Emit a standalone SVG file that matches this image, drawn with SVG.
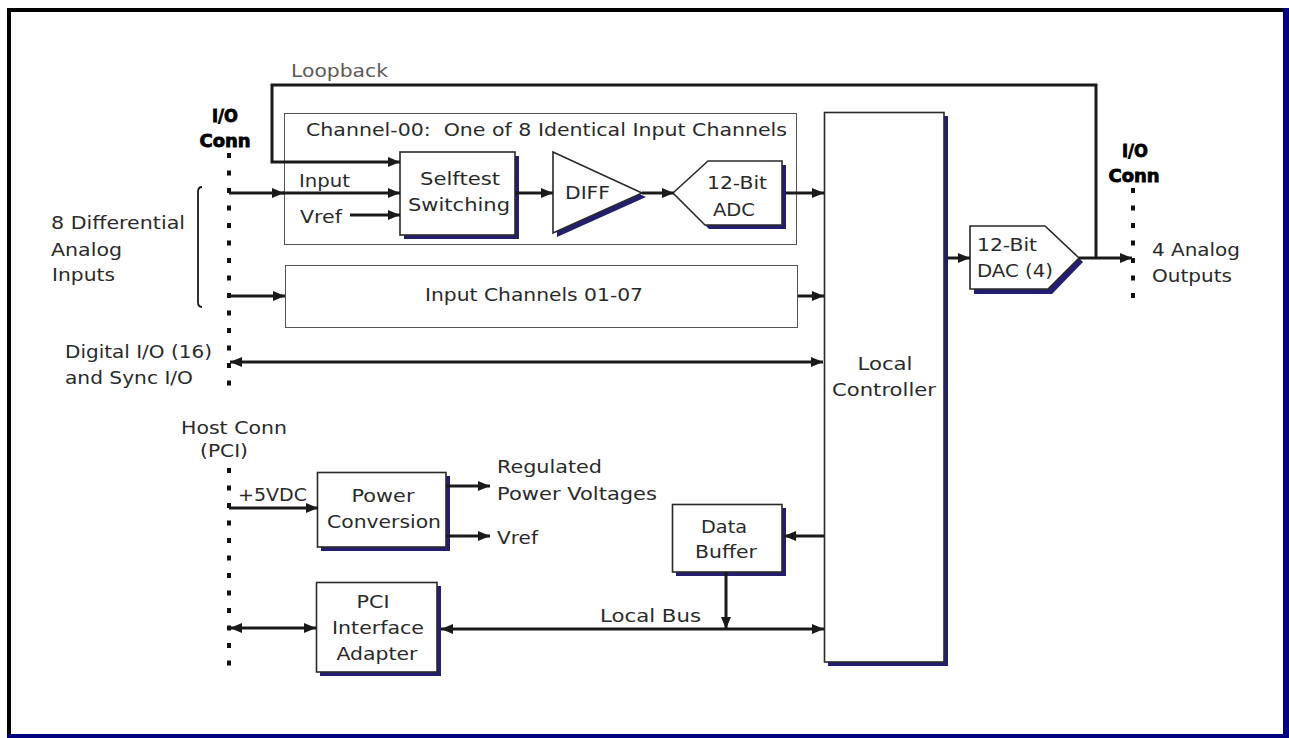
<svg xmlns="http://www.w3.org/2000/svg" width="1289" height="738" viewBox="0 0 1289 738">
<defs>
<style>
text{font-family:"DejaVu Sans","Liberation Sans",sans-serif;font-size:17.5px;fill:#2a2a2a}
.b{font-weight:bold;font-size:17px;fill:#000;stroke:#000;stroke-width:0.8}
.g{fill:#5a5a5a}
.m{text-anchor:middle}
.box{fill:#fff;stroke:#2a2a2a;stroke-width:1.6}
.thin{fill:none;stroke:#555;stroke-width:1}
.sh{fill:#231f6e}
.ln{fill:none;stroke:#1a1a1a;stroke-width:3}
.dot{fill:none;stroke:#111;stroke-width:4;stroke-dasharray:5 12.5}
</style>
<marker id="ah" viewBox="0 0 12 10" refX="12" refY="5" markerWidth="12" markerHeight="10" markerUnits="userSpaceOnUse" orient="auto-start-reverse">
<path d="M0,0 L12,5 L0,10 z" fill="#1a1a1a"/>
</marker>
</defs>
<rect width="1289" height="738" fill="#fff"/>
<g id="frame">
<rect x="1283" y="8" width="6" height="730" fill="#000080"/>
<rect x="7" y="734" width="1282" height="4" fill="#000080"/>
<rect x="7" y="8" width="1276" height="4" fill="#000"/>
<rect x="7" y="8" width="4" height="726" fill="#000"/>
</g>
<g id="labels">
<text class="g" x="291" y="77" textLength="97" lengthAdjust="spacingAndGlyphs">Loopback</text>
<text class="b m" x="225" y="122" textLength="26" lengthAdjust="spacingAndGlyphs">I/O</text>
<text class="b m" x="225" y="147" textLength="51" lengthAdjust="spacingAndGlyphs">Conn</text>
<text class="b m" x="1135" y="157" textLength="26" lengthAdjust="spacingAndGlyphs">I/O</text>
<text class="b m" x="1134" y="182" textLength="51" lengthAdjust="spacingAndGlyphs">Conn</text>
<text x="299" y="187" textLength="51" lengthAdjust="spacingAndGlyphs">Input</text>
<text x="300" y="223" textLength="42" lengthAdjust="spacingAndGlyphs">Vref</text>
<text x="51" y="229" textLength="134" lengthAdjust="spacingAndGlyphs">8 Differential</text>
<text x="51" y="256" textLength="71" lengthAdjust="spacingAndGlyphs">Analog</text>
<text x="52" y="281" textLength="63" lengthAdjust="spacingAndGlyphs">Inputs</text>
<text x="1152" y="256" textLength="88" lengthAdjust="spacingAndGlyphs">4 Analog</text>
<text x="1152" y="282" textLength="80" lengthAdjust="spacingAndGlyphs">Outputs</text>
<text x="65" y="358" textLength="147" lengthAdjust="spacingAndGlyphs">Digital I/O (16)</text>
<text x="65" y="384" textLength="128" lengthAdjust="spacingAndGlyphs">and Sync I/O</text>
<text x="181" y="434" textLength="106" lengthAdjust="spacingAndGlyphs">Host Conn</text>
<text x="200" y="457" textLength="48" lengthAdjust="spacingAndGlyphs">(PCI)</text>
<text x="238" y="501" textLength="69" lengthAdjust="spacingAndGlyphs">+5VDC</text>
<text x="497" y="473" textLength="105" lengthAdjust="spacingAndGlyphs">Regulated</text>
<text x="497" y="500" textLength="160" lengthAdjust="spacingAndGlyphs">Power Voltages</text>
<text x="497" y="544" textLength="41" lengthAdjust="spacingAndGlyphs">Vref</text>
<text x="600" y="622" textLength="101" lengthAdjust="spacingAndGlyphs">Local Bus</text>
</g>
<g id="channel00">
<rect class="thin" x="284.5" y="113.5" width="512" height="131"/>
<text x="306" y="136" xml:space="preserve" textLength="481" lengthAdjust="spacingAndGlyphs">Channel-00:  One of 8 Identical Input Channels</text>
</g>
<g id="selftest">
<rect class="sh" x="404" y="156" width="115" height="83"/>
<rect class="box" x="400" y="152" width="115" height="83"/>
<text class="m" x="460" y="185" textLength="80" lengthAdjust="spacingAndGlyphs">Selftest</text>
<text class="m" x="459" y="211" textLength="102" lengthAdjust="spacingAndGlyphs">Switching</text>
</g>
<g id="diff">
<path class="sh" d="M557,156 L646,197 L557,237 z"/>
<path class="box" d="M553,152 L642,193 L553,233 z"/>
<text x="565" y="199" textLength="45" lengthAdjust="spacingAndGlyphs">DIFF</text>
</g>
<g id="adc">
<path class="sh" d="M677,197 L712,165 L786,165 L786,229 L709,229 z"/>
<path class="box" d="M673,193 L708,161 L782,161 L782,225 L705,225 z"/>
<text class="m" x="737" y="189" textLength="60" lengthAdjust="spacingAndGlyphs">12-Bit</text>
<text class="m" x="734" y="216" textLength="42" lengthAdjust="spacingAndGlyphs">ADC</text>
</g>
<g id="inputch">
<rect class="thin" x="285.5" y="265.5" width="512" height="62"/>
<text class="m" x="534" y="301" textLength="218" lengthAdjust="spacingAndGlyphs">Input Channels 01-07</text>
</g>
<g id="controller">
<rect class="sh" x="828" y="116" width="120" height="550"/>
<rect class="box" x="824.5" y="112.5" width="119.5" height="549.5"/>
<text class="m" x="885" y="370" textLength="55" lengthAdjust="spacingAndGlyphs">Local</text>
<text class="m" x="884" y="396" textLength="104" lengthAdjust="spacingAndGlyphs">Controller</text>
</g>
<g id="dac">
<path class="sh" d="M974,229 L1049,229 L1083,262 L1052,294 L974,294 z"/>
<path class="box" d="M970,226 L1045,226 L1079,258 L1048,289 L970,289 z"/>
<text x="977" y="251" textLength="60" lengthAdjust="spacingAndGlyphs">12-Bit</text>
<text x="977" y="277" textLength="76" lengthAdjust="spacingAndGlyphs">DAC (4)</text>
</g>
<g id="power">
<rect class="sh" x="321" y="476" width="129" height="75"/>
<rect class="box" x="317.5" y="472.5" width="128.5" height="74.5"/>
<text class="m" x="383" y="502" textLength="63" lengthAdjust="spacingAndGlyphs">Power</text>
<text class="m" x="384" y="528" textLength="114" lengthAdjust="spacingAndGlyphs">Conversion</text>
</g>
<g id="databuffer">
<rect class="sh" x="676" y="508" width="110" height="68"/>
<rect class="box" x="672.5" y="504.5" width="109.5" height="67.5"/>
<text class="m" x="724" y="533" textLength="46" lengthAdjust="spacingAndGlyphs">Data</text>
<text class="m" x="726" y="558" textLength="62" lengthAdjust="spacingAndGlyphs">Buffer</text>
</g>
<g id="pci">
<rect class="sh" x="320" y="586" width="121" height="90"/>
<rect class="box" x="316.5" y="582.5" width="120.5" height="89.5"/>
<text class="m" x="373" y="608" textLength="33" lengthAdjust="spacingAndGlyphs">PCI</text>
<text class="m" x="378" y="634" textLength="92" lengthAdjust="spacingAndGlyphs">Interface</text>
<text class="m" x="377" y="660" textLength="81" lengthAdjust="spacingAndGlyphs">Adapter</text>
</g>
<g id="connectors">
<path class="dot" d="M229,153 V388"/>
<path class="dot" d="M229,468 V666"/>
<path class="dot" d="M1133,188 V300"/>
<path class="ln" d="M1096,258 V85 H272 V162 H400" marker-end="url(#ah)"/>
<path class="ln" d="M229,193 H284" marker-end="url(#ah)"/>
<path class="ln" d="M282,193 H400" marker-end="url(#ah)"/>
<path class="ln" d="M350,215 H400" marker-end="url(#ah)"/>
<path class="ln" d="M515,193 H553" marker-end="url(#ah)"/>
<path class="ln" d="M642,193 H674" marker-end="url(#ah)"/>
<path class="ln" d="M786,193 H824" marker-end="url(#ah)"/>
<path class="ln" d="M229,296 H285" marker-end="url(#ah)"/>
<path class="ln" d="M798,296 H824" marker-end="url(#ah)"/>
<path class="ln" d="M230,362 H823" marker-start="url(#ah)" marker-end="url(#ah)"/>
<path class="ln" d="M948,258 H970" marker-end="url(#ah)"/>
<path class="ln" d="M1079,258 H1132" marker-end="url(#ah)"/>
<path class="ln" d="M229,508 H318" marker-end="url(#ah)"/>
<path class="ln" d="M446,486 H490" marker-end="url(#ah)"/>
<path class="ln" d="M446,536 H490" marker-end="url(#ah)"/>
<path class="ln" d="M824,536 H784" marker-end="url(#ah)"/>
<path class="ln" d="M726,572 V629" marker-end="url(#ah)"/>
<path class="ln" d="M230,628 H316" marker-start="url(#ah)" marker-end="url(#ah)"/>
<path class="ln" d="M441,629 H824" marker-start="url(#ah)" marker-end="url(#ah)"/>
<path fill="none" stroke="#1a1a1a" stroke-width="1.8" d="M202,187 Q198,187 198,192 V302 Q198,307 202,307"/>
</g>
</svg>
